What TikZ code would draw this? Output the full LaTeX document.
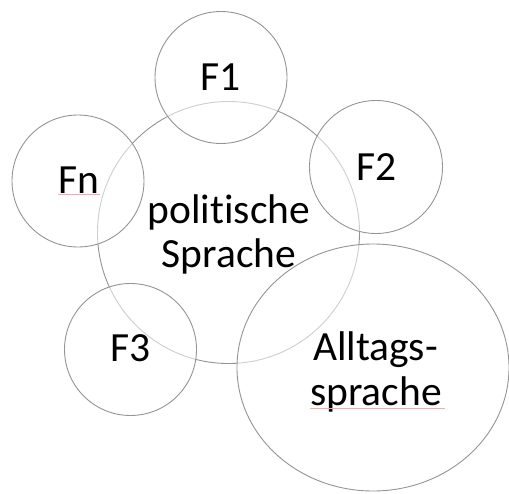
\documentclass[tikz,border=0pt]{standalone}
\usepackage{fontspec}
\setmainfont{Carlito}[Ligatures=CommonOff]
\usetikzlibrary{shapes.geometric}
\begin{document}
\begin{tikzpicture}[x=1pt,y=-1pt,
  ring/.style={circle, draw=black!42, fill=white, fill opacity=0.55, line width=0.9pt, inner sep=0pt, minimum size=#1},
  oval/.style={ellipse, draw=black!42, fill=white, fill opacity=0.55, line width=0.9pt, inner sep=0pt},
  lbl/.style={font=\fontsize{41.5}{44}\selectfont, text=black, anchor=base, inner sep=0pt},
  squig/.style={draw=red!35, line width=0.8pt}]
\useasboundingbox (0,0) rectangle (509,493);
% circles
\node[ring=262pt] (pol) at (228.5,232.5) {};
\node[ring=132pt] (f1) at (221,77.5) {};
\node[ring=133pt] (f2) at (376,167) {};
\node[ring=132pt] (fn) at (78,181) {};
\node[ring=132pt] (f3) at (130.5,349.5) {};
\node[oval, minimum width=272pt, minimum height=247pt] (all) at (373,367.5) {};
% labels
\node[lbl] (tf1) at (221,90) {F1};
\node[lbl] (tf2) at (376.5,180) {F2};
\node[lbl] (tfn) at (79,193) {Fn};
\node[lbl] (tf3) at (130.5,361.5) {F3};
\node[lbl] (tpol1) at (229,223.3) {politische};
\node[lbl] (tpol2) at (229,267.3) {Sprache};
\node[lbl] (tall1) at (375.5,360) {Alltags-};
\node[lbl] (tall2) at (376,405) {sprache};
% spell-check underlines
\coordinate (u1a) at (58,194.5);
\coordinate (u1b) at (100,194.5);
\coordinate (u2a) at (310,408.5);
\coordinate (u2b) at (445,408.5);
\draw[squig] (u1a) -- (u1b);
\draw[squig] (u2a) -- (u2b);
\end{tikzpicture}
\end{document}
